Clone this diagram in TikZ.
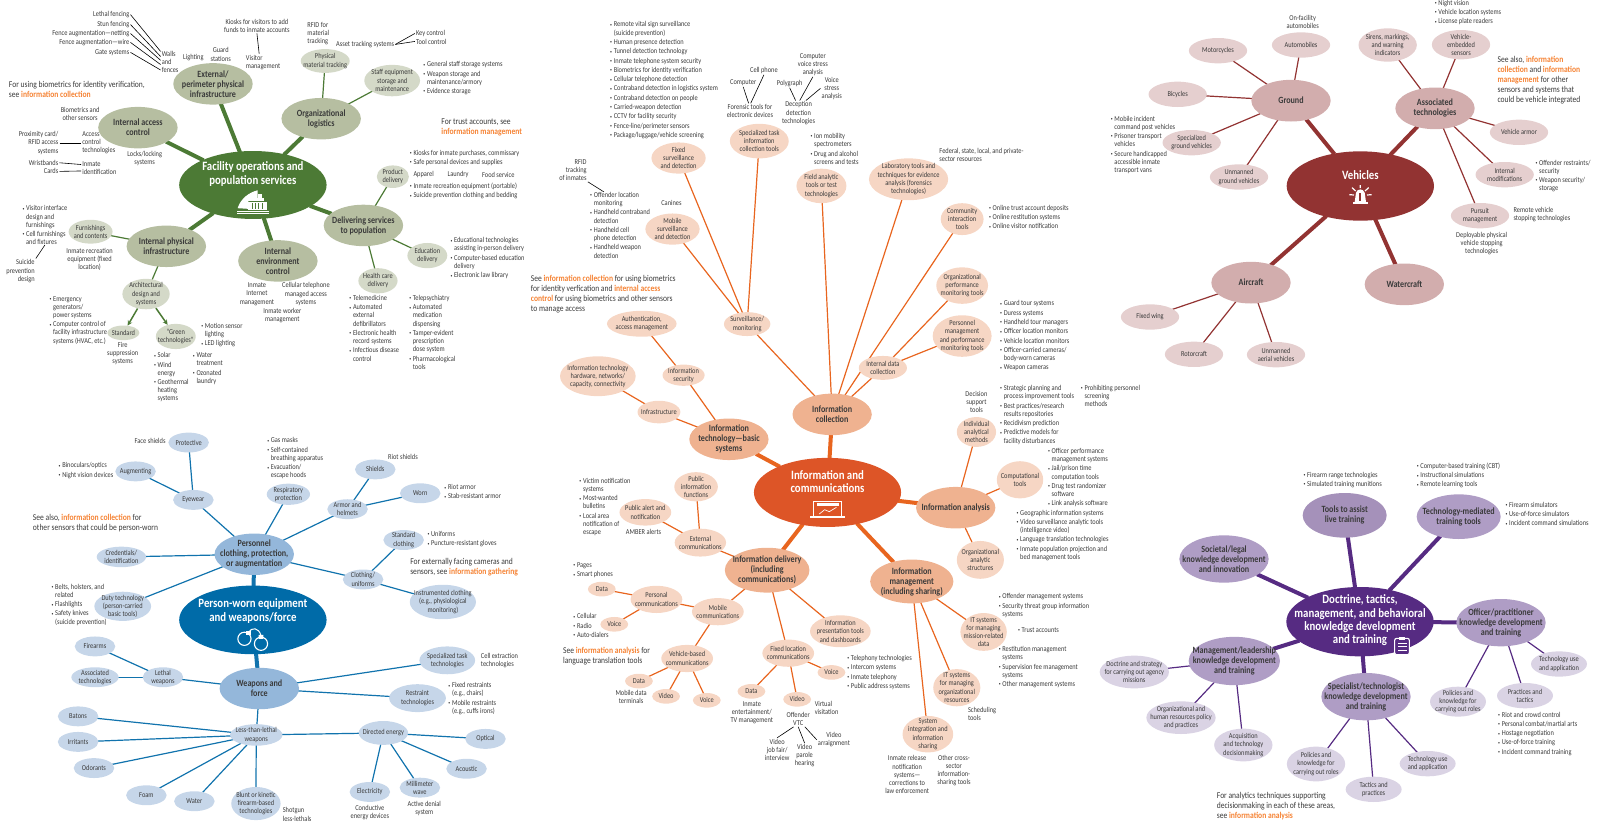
\documentclass[tikz,border=0pt]{standalone}
\usepackage{fontspec}
\setmainfont[FakeStretch=0.85]{Carlito}
\usetikzlibrary{shapes.geometric,arrows.meta,calc}
\pgfdeclarelayer{bg}
\pgfsetlayers{bg,main}
\definecolor{txt}{HTML}{3A3A3A}
\definecolor{note}{HTML}{F58233}
\definecolor{gMain}{HTML}{4C7A35}\definecolor{gOne}{HTML}{B6BEA1}\definecolor{gTwo}{HTML}{D4D9C8}\definecolor{gLine}{HTML}{4C7A35}
\definecolor{bMain}{HTML}{006BA8}\definecolor{bOne}{HTML}{94B7DA}\definecolor{bTwo}{HTML}{C6D6E9}\definecolor{bLine}{HTML}{1173AD}
\definecolor{oMain}{HTML}{DD5527}\definecolor{oOne}{HTML}{EFB290}\definecolor{oTwo}{HTML}{F6D6C4}\definecolor{oLine}{HTML}{E8651F}
\definecolor{rMain}{HTML}{923332}\definecolor{rOne}{HTML}{D2ADAD}\definecolor{rTwo}{HTML}{E5CFCF}\definecolor{rLine}{HTML}{923332}
\definecolor{pMain}{HTML}{562B82}\definecolor{pOne}{HTML}{AF9DC5}\definecolor{pOneD}{HTML}{A591BA}\definecolor{pTwo}{HTML}{DAD3E4}\definecolor{pLine}{HTML}{562B82}
\tikzset{
 ell/.style={ellipse,inner sep=0pt,draw=none},
 mtxt/.style={align=center,text=white,inner sep=0pt,font=\fontsize{12.7}{13.2}\selectfont\bfseries},
 onetxt/.style={align=center,text=txt,inner sep=0pt,font=\fontsize{9.5}{10}\selectfont\bfseries},
 twotxt/.style={align=center,text=txt,inner sep=0pt,font=\fontsize{7.5}{8.2}\selectfont},
 ltxt/.style={text=txt,inner sep=1pt,font=\fontsize{7.5}{8.2}\selectfont},
 ntxt/.style={text=txt,inner sep=0pt,anchor=west,align=left,font=\fontsize{8.9}{10}\selectfont},
 leader/.style={draw=black,line width=.6pt},
 con/.style={line cap=butt,shorten <=-1pt,shorten >=-1pt},
 arr/.style={-{Stealth[length=5pt,width=5pt]},line width=1.5pt},
 zm/.style n args={4}{xshift=#1pt,yshift=-#2pt,x=#3pt,y=-#4pt}
}
\newcommand{\Mn}[8]{\node[ell,fill=cMain,minimum width={#4*\zk pt},minimum height={#5*\zh pt}] (#1) at (#2,#3) {};\node[mtxt] (#1t) at (#6,#7) {#8};}
\newcommand{\Oa}[6]{\node[ell,fill=cOne,minimum width={#4*\zk pt},minimum height={#5*\zh pt}] (#1) at (#2,#3) {};\node[onetxt] (#1t) at (#1) {#6};}
\newcommand{\Tw}[6]{\node[ell,fill=cTwo,minimum width={#4*\zk pt},minimum height={#5*\zh pt}] (#1) at (#2,#3) {};\node[twotxt] (#1t) at (#1) {#6};}
\newcommand{\TxC}[4]{\node[ltxt,align=center] (#1) at (#2,#3) {#4};}
\newcommand{\TxL}[4]{\node[ltxt,align=left,anchor=west] (#1) at (#2,#3) {#4};}
\newcommand{\TxR}[4]{\node[ltxt,align=right,anchor=east] (#1) at (#2,#3) {#4};}
\newcommand{\itm}{\makebox[3.6pt][l]{\raisebox{.6pt}{\fontsize{4.5}{5}\selectfont\textbullet}}}
\newcommand{\Cn}{\\\hspace*{3.6pt}}
\newcommand{\Nx}{\\[1.1pt]\itm}
\newcommand{\Bl}[4]{\node[ltxt,inner sep=0pt,align=left,anchor=north west] (#1) at (#2,{#3-12}) {\itm #4};}
\newcommand{\Nt}[4]{\node[ntxt] (#1) at (#2,#3) {#4};}
\newcommand{\Or}[1]{\textcolor{note}{\bfseries #1}}
\newcommand{\Conn}[3]{\foreach \a/\b in {#3} \draw[con,draw=#1,line width=#2] (\a) -- (\b);}
\begin{document}
\begin{tikzpicture}[x=1pt,y=1pt]
\useasboundingbox (0,0) rectangle (1606,-825);
%% GREEN
\def\zk{0.33807}\def\zh{0.3315}
\colorlet{cMain}{gMain}\colorlet{cOne}{gOne}\colorlet{cTwo}{gTwo}
\begin{scope}[zm={0}{0}{0.33807}{0.3315}]
\Mn{gm}{748}{558}{436}{205}{748}{525}{Facility operations and\\population services}
\Oa{gExt}{630}{253}{235}{125}{External/\\perimeter physical\\infrastructure}
\Oa{gAcc}{408}{385}{235}{125}{Internal access\\control}
\Oa{gLog}{950}{358}{235}{125}{Organizational\\logistics}
\Oa{gDel}{1075}{680}{235}{125}{Delivering services\\to population}
\Oa{gEnv}{822}{787}{235}{125}{Internal\\environment\\control}
\Oa{gPhy}{492}{743}{235}{125}{Internal physical\\infrastructure}
\Tw{gMat}{962}{184}{145}{72}{Physical\\material tracking}
\Tw{gStaff}{1160}{243}{165}{95}{Staff equipment\\storage and\\maintenance}
\Tw{gProd}{1162}{533}{95}{68}{Product\\delivery}
\Tw{gEdu}{1264}{771}{118}{76}{Education\\delivery}
\Tw{gHealth}{1118}{847}{116}{76}{Health care\\delivery}
\Tw{gFurn}{268}{699}{130}{72}{Furnishings\\and contents}
\Tw{gArch}{432}{887}{140}{92}{Architectural\\design and\\systems}
\Tw{gStd}{365}{1004}{95}{44}{Standard}
\Tw{gGreen}{520}{1015}{118}{76}{``Green\\technologies''}
% icon
\fill[white] (703,628) .. controls (712,598) and (738,580) .. (762,574) -- (762,606) -- (735,606) -- (735,630) -- cycle;
\fill[white] (735,610) rectangle (790,632);
\fill[white] (755,596) rectangle (782,606);
\fill[white] (764,586) rectangle (776,596);
\fill[white] (700,635) rectangle (795,638);
\fill[white] (700,643) rectangle (795,647);
\foreach \q in {744,754,764,774}{\fill[gMain] (\q,612) rectangle ++(3,18);}
\TxR{gt1}{386}{44}{Lethal fencing}
\TxR{gt2}{386}{74}{Stun fencing}
\TxR{gt3}{386}{101}{Fence augmentation—netting}
\TxR{gt4}{386}{128}{Fence augmentation—wire}
\TxR{gt5}{386}{158}{Gate systems}
\TxL{gWalls}{475}{187}{Walls\\and\\fences}
\TxC{gt6}{572}{173}{Lighting}
\TxC{gt7}{653}{164}{Guard\\stations}
\TxL{gVis}{724}{188}{Visitor\\management}
\TxC{gKi}{760}{77}{Kiosks for visitors to add\\funds to inmate accounts}
\TxL{gt8}{906}{101}{RFID for\\material\\tracking}
\TxC{gAsset}{1080}{134}{Asset tracking systems}
\TxL{gKey}{1227}{101}{Key control}
\TxL{gTool}{1227}{125}{Tool control}
\Bl{gb1}{1252}{197}{General staff storage systems\Nx Weapon storage and\Cn maintenance/armory\Nx Evidence storage}
\Nt{gn1}{26}{270}{For using biometrics for identity verification,\\see \Or{information collection}}
\Nt{gn2}{1305}{385}{For trust accounts, see\\\Or{information management}}
\TxC{gt9}{237}{344}{Biometrics and\\other sensors}
\TxR{gProx}{176}{431}{Proximity card/\\RFID access\\systems}
\TxL{gAccT}{240}{431}{Access\\control\\technologies}
\TxR{gWr}{176}{491}{Wristbands}
\TxR{gCa}{176}{517}{Cards}
\TxL{gIn}{240}{506}{Inmate\\identification}
\TxC{gt10}{428}{479}{Locks/locking\\systems}
\Bl{gb2}{1212}{464}{Kiosks for inmate purchases, commissary\Nx Safe personal devices and supplies}
\TxC{gt11}{1253}{527}{Apparel}
\TxC{gt12}{1355}{527}{Laundry}
\TxC{gt13}{1474}{527}{Food service}
\Bl{gb3}{1212}{563}{Inmate recreation equipment (portable)\Nx Suicide prevention clothing and bedding}
\Bl{gb4}{1332}{728}{Educational technologies\Cn assisting in-person delivery\Nx Computer-based education\Cn delivery\Nx Electronic law library}
\Bl{gb5}{1033}{902}{Telemedicine\Nx Automated\Cn external\Cn defibrillators\Nx Electronic health\Cn record systems\Nx Infectious disease\Cn control}
\Bl{gb6}{1210}{902}{Telepsychiatry\Nx Automated\Cn medication\Cn dispensing\Nx Tamper-evident\Cn prescription\Cn dose system\Nx Pharmacological\Cn tools}
\TxC{gt14}{760}{887}{Inmate\\Internet\\management}
\TxC{gt15}{905}{887}{Cellular telephone\\managed access\\systems}
\TxC{gt16}{835}{953}{Inmate worker\\management}
\Bl{gFb}{66}{632}{Visitor interface\Cn design and\Cn furnishings\Nx Cell furnishings\Cn and fixtures}
\TxR{gSui}{106}{818}{Suicide\\prevention\\design}
\TxC{gt17}{265}{782}{Inmate recreation\\equipment (fixed\\location)}
\Bl{gb7}{146}{905}{Emergency\Cn generators/\Cn power systems\Nx Computer control of\Cn facility infrastructure\Cn systems (HVAC, etc.)}
\TxC{gt18}{363}{1067}{Fire\\suppression\\systems}
\Bl{gb8}{595}{986}{Motion sensor\Cn lighting\Nx LED lighting}
\Bl{gb9}{455}{1075}{Solar\Nx Wind\Cn energy\Nx Geothermal\Cn heating\Cn systems}
\Bl{gb10}{570}{1076}{Water\Cn treatment\Nx Ozonated\Cn laundry}
\end{scope}
\draw[leader] (gt1.east) -- (gWalls.132);
\draw[leader] (gt2.east) -- (gWalls.150);
\draw[leader] (gt3.east) -- (gWalls.170);
\draw[leader] (gt4.east) -- (gWalls.195);
\draw[leader] (gt5.east) -- (gWalls.220);
\draw[leader] (gKi.south) -- (gVis.115);
\draw[leader] (gAsset.east) -- (gKey.west);
\draw[leader] (gAsset.east) -- (gTool.west);
\draw[leader] (gProx.east) -- (gAccT.west);
\draw[leader] (gWr.east) -- (gIn.170);
\draw[leader] (gCa.east) -- (gIn.190);
\draw[leader] (gSui.north east) -- (gFb.south);
%% BLUE
\colorlet{cMain}{bMain}\colorlet{cOne}{bOne}\colorlet{cTwo}{bTwo}
\begin{scope}[zm={0}{420}{0.33807}{0.3315}]
\Mn{bm}{748}{603}{436}{207}{748}{576}{Person-worn equipment\\and weapons/force}
\Oa{bPers}{752}{405}{235}{125}{Personnel\\clothing, protection,\\or augmentation}
\Oa{bWeap}{767}{810}{235}{125}{Weapons and\\force}
\Tw{bProt}{558}{68}{120}{60}{Protective}
\Tw{bAug}{401}{155}{120}{60}{Augmenting}
\Tw{bEye}{572}{241}{120}{60}{Eyewear}
\Tw{bResp}{853}{224}{128}{64}{Respiratory\\protection}
\Tw{bShi}{1110}{149}{120}{60}{Shields}
\Tw{bArm}{1028}{269}{120}{60}{Armor and\\helmets}
\Tw{bWorn}{1243}{221}{120}{60}{Worn}
\Tw{bStd}{1194}{362}{120}{60}{Standard\\clothing}
\Tw{bClo}{1074}{481}{120}{60}{Clothing/\\uniforms}
\Tw{bInst}{1310}{549}{196}{104}{Instrumented clothing\\(e.g., physiological\\monitoring)}
\Tw{bCred}{359}{413}{146}{62}{Credentials/\\identification}
\Tw{bDuty}{363}{562}{168}{88}{Duty technology\\(person-carried\\basic tools)}
\Tw{bFire}{281}{683}{120}{60}{Firearms}
\Tw{bAss}{281}{776}{140}{60}{Associated\\technologies}
\Tw{bLeth}{482}{776}{120}{60}{Lethal\\weapons}
\Tw{bSpec}{1323}{725}{165}{84}{Specialized task\\technologies}
\Tw{bRest}{1235}{839}{168}{84}{Restraint\\technologies}
\Tw{bLess}{758}{950}{155}{65}{Less-than-lethal\\weapons}
\Tw{bDir}{1134}{944}{146}{72}{Directed energy}
\Tw{bBat}{231}{894}{120}{60}{Batons}
\Tw{bIrr}{231}{971}{120}{60}{Irritants}
\Tw{bOdo}{278}{1050}{120}{60}{Odorants}
\Tw{bFoam}{433}{1132}{120}{60}{Foam}
\Tw{bWat}{575}{1150}{120}{60}{Water}
\Tw{bBlu}{757}{1157}{146}{100}{Blunt or kinetic\\firearm-based\\technologies}
\Tw{bEle}{1094}{1122}{120}{60}{Electricity}
\Tw{bMil}{1242}{1109}{120}{60}{Millimeter\\wave}
\Tw{bAco}{1380}{1052}{120}{60}{Acoustic}
\Tw{bOpt}{1436}{962}{120}{60}{Optical}
\draw[white,line width=1.1pt] (723,660) circle (6.6pt) (772,675) circle (6.6pt);
\draw[white,line width=1pt] (735,640) .. controls (745,625) and (765,625) .. (772,650);
\fill[white] (728,637) rectangle (742,648) (765,648) rectangle (779,660);
\TxC{bt1}{444}{62}{Face shields}
\Bl{bb1}{173}{140}{Binoculars/optics\Nx Night vision devices}
\Bl{bb2}{790}{65}{Gas masks\Nx Self-contained\Cn breathing apparatus\Nx Evacuation/\Cn escape hoods}
\TxC{bt2}{1192}{110}{Riot shields}
\Bl{bb3}{1314}{206}{Riot armor\Nx Stab-resistant armor}
\Bl{bb4}{1264}{347}{Uniforms\Nx Puncture-resistant gloves}
\Bl{bb5}{152}{506}{Belts, holsters, and\Cn related\Nx Flashlights\Nx Safety knives\Cn (suicide prevention)}
\TxL{bt3}{1419}{725}{Cell extraction\\technologies}
\Bl{bb6}{1326}{803}{Fixed restraints\Cn (e.g., chairs)\Nx Mobile restraints\Cn (e.g., cuffs irons)}
\TxL{bt4}{833}{1190}{Shotgun\\less-lethals}
\TxC{bt5}{1094}{1184}{Conductive\\energy devices}
\TxC{bt6}{1255}{1172}{Active denial\\system}
\Nt{bn1}{97}{310}{See also, \Or{information collection} for\\other sensors that could be person-worn}
\Nt{bn2}{1213}{445}{For externally facing cameras and\\sensors, see \Or{information gathering}}
\end{scope}
%% ORANGE
\def\zk{0.35714}\def\zh{0.332}
\colorlet{cMain}{oMain}\colorlet{cOne}{oOne}\colorlet{cTwo}{oTwo}
\begin{scope}[zm={530}{260}{0.35714}{0.332}]
\Mn{om}{833}{700}{412}{208}{833}{668}{Information and\\communications}
\Oa{oColl}{846}{465}{222}{125}{Information\\collection}
\Oa{oIT}{557}{540}{222}{125}{Information\\technology—basic\\systems}
\Oa{oAna}{1192}{746}{222}{125}{Information analysis}
\Tw{oSurv}{608}{193}{130}{72}{Surveillance/\\monitoring}
\Tw{oInt}{988}{325}{135}{72}{Internal data\\collection}
\Tw{oPer}{1210}{229}{165}{125}{Personnel\\management\\and performance\\monitoring tools}
\Tw{oOrgP}{1210}{77}{145}{110}{Organizational\\performance\\monitoring tools}
\Tw{oInd}{1250}{518}{110}{90}{Individual\\analytical\\methods}
\Tw{oCom}{1372}{662}{130}{112}{Computational\\tools}
\Tw{oAuth}{313}{192}{195}{78}{Authentication,\\access management}
\Tw{oSec}{430}{347}{118}{64}{Information\\security}
\Tw{oHw}{190}{350}{212}{120}{Information technology\\hardware, networks/\\capacity, connectivity}
\Tw{oInf}{361}{458}{120}{68}{Infrastructure}
\Tw{oPub}{465}{683}{122}{88}{Public\\information\\functions}
\Tw{oAl}{323}{760}{145}{80}{Public alert and\\notification}
% laptop icon
\draw[white,line width=1pt] (795,726) rectangle (873,772);
\fill[white] (803,732) rectangle (865,740);
\fill[white] (785,772) rectangle (882,776);
\draw[white,line width=.7pt] (810,765) -- (825,752) -- (838,758) -- (858,745);
\Nt{on1}{2}{104}{See \Or{information collection} for using biometrics\\for identity verfication and \Or{internal access}\\\Or{control} for using biometrics and other sensors\\to manage access}
\Bl{ob1}{1316}{134}{Guard tour systems\Nx Duress systems\Nx Handheld tour managers\Nx Officer location monitors\Nx Vehicle location monitors\Nx Officer-carried cameras/\Cn body-worn cameras\Nx Weapon cameras}
\Bl{ob2}{1316}{389}{Strategic planning and\Cn process improvement tools\Nx Best practices/research\Cn results repositories\Nx Recidivism prediction\Nx Predictive models for\Cn facility disturbances}
\TxC{ot1}{1250}{428}{Decision\\support\\tools}
\Bl{ob3}{1542}{389}{Prohibiting personnel\Cn screening\Cn methods}
\Bl{ob4}{1450}{578}{Officer performance\Cn management systems\Nx Jail/prison time\Cn computation tools\Nx Drug test randomizer\Cn software\Nx Link analysis software}
\Bl{ob5}{1362}{764}{Geographic information systems\Nx Video surveillance analytic tools\Cn (intelligence video)\Nx Language translation technologies\Nx Inmate population projection and\Cn bed management tools}
\Bl{ob6}{138}{668}{Victim notification\Cn systems\Nx Most-wanted\Cn bulletins\Nx Local area\Cn notification of\Cn escape}
\TxC{ot2}{318}{820}{AMBER alerts}
\end{scope}
\begin{scope}[zm={530}{0}{0.35714}{0.332}]
\Tw{oFix}{416}{476}{152}{94}{Fixed\\surveillance\\and detection}
\Tw{oSp}{642}{425}{165}{104}{Specialized task\\information\\collection tools}
\Tw{oFld}{816}{560}{140}{104}{Field analytic\\tools or test\\technologies}
\Tw{oLab}{1060}{540}{222}{126}{Laboratory tools and\\techniques for evidence\\analysis (forensics\\technologies)}
\Tw{oCmt}{1210}{660}{120}{96}{Community\\interaction\\tools}
\Tw{oMob}{399}{690}{152}{94}{Mobile\\surveillance\\and detection}
\Bl{ob7}{224}{77}{Remote vital sign surveillance\Cn (suicide prevention)\Nx Human presence detection\Nx Tunnel detection technology\Nx Inmate telephone system security\Nx Biometrics for identity verification\Nx Cellular telephone detection\Nx Contraband detection in logistics system\Nx Contraband detection on people\Nx Carried-weapon detection\Nx CCTV for facility security\Nx Fence-line/perimeter sensors\Nx Package/luggage/vehicle screening}
\TxC{oFor}{616}{335}{Forensic tools for\\electronic devices}
\TxC{oCp}{597}{249}{Computer}
\TxC{oCe}{655}{212}{Cell phone}
\TxC{oDec}{752}{341}{Deception\\detection\\technologies}
\TxC{oPol}{727}{251}{Polygraph}
\TxC{oCv}{792}{194}{Computer\\voice stress\\analysis}
\TxC{oVs}{845}{266}{Voice\\stress\\analysis}
\Bl{ob8}{785}{413}{Ion mobility\Cn spectrometers\Nx Drug and alcohol\Cn screens and tests}
\TxL{ot3}{1143}{467}{Federal, state, local, and private-\\sector resources}
\Bl{ob9}{1285}{629}{Online trust account deposits\Nx Online restitution systems\Nx Online visitor notification}
\TxR{oRf}{162}{512}{RFID\\tracking\\of inmates}
\Bl{oOf}{168}{590}{Offender location\Cn monitoring\Nx Handheld contraband\Cn detection\Nx Handheld cell\Cn phone detection\Nx Handheld weapon\Cn detection}
\TxC{ot4}{396}{611}{Canines}
\end{scope}
\begin{scope}[zm={550}{530}{0.35714}{0.332}]
\Oa{oDel}{608}{121}{237}{135}{Information delivery\\(including\\communications)}
\Oa{oMgm}{1013}{155}{233}{132}{Information\\management\\(including sharing)}
\Tw{oExt}{421}{38}{144}{84}{External\\communications}
\Tw{oOrgA}{1205}{90}{132}{114}{Organizational\\analytic\\structures}
\Tw{oMis}{1214}{307}{130}{114}{IT systems\\for managing\\mission-related\\data}
\Tw{oOrgR}{1139}{475}{132}{112}{IT systems\\for managing\\organizational\\resources}
\Tw{oSys}{1058}{615}{142}{110}{System\\integration and\\information\\sharing}
\Tw{oPres}{813}{305}{170}{96}{Information\\presentation tools\\and dashboards}
\Tw{oFL}{667}{371}{145}{82}{Fixed location\\communications}
\Tw{oMc}{470}{246}{145}{82}{Mobile\\communications}
\Tw{oPc}{298}{209}{145}{82}{Personal\\communications}
\Tw{oVb}{384}{387}{145}{82}{Vehicle-based\\communications}
\Tw{oD1}{145}{178}{78}{44}{Data}
\Tw{oV1}{180}{284}{78}{44}{Voice}
\Tw{oD2}{249}{455}{78}{44}{Data}
\Tw{oVi2}{325}{501}{78}{44}{Video}
\Tw{oV2}{439}{513}{78}{44}{Voice}
\Tw{oD3}{564}{486}{78}{44}{Data}
\Tw{oVi3}{692}{510}{78}{44}{Video}
\Tw{oV3}{788}{429}{78}{44}{Voice}
\Bl{ob10}{65}{110}{Pages\Nx Smart phones}
\Bl{ob11}{65}{263}{Cellular\Nx Radio\Nx Auto-dialers}
\Nt{on2}{36}{379}{See \Or{information analysis} for\\language translation tools}
\TxC{ot5}{227}{503}{Mobile data\\terminals}
\TxC{ot6}{565}{551}{Inmate\\entertainment/\\TV management}
\TxC{oVtc}{695}{569}{Offender\\VTC}
\TxL{ot7}{738}{536}{Virtual\\visitation}
\TxC{oJob}{636}{662}{Video\\job fair/\\interview}
\TxC{oPar}{713}{680}{Video\\parole\\hearing}
\TxC{oArr}{795}{632}{Video\\arraignment}
\Bl{ob12}{832}{389}{Telephony technologies\Nx Intercom systems\Nx Inmate telephony\Nx Public address systems}
\Bl{ob13}{1256}{203}{Offender management systems\Nx Security threat group information\Cn systems}
\Bl{ob14}{1310}{305}{Trust accounts}
\Bl{ob15}{1256}{362}{Restitution management\Cn systems\Nx Supervision fee management\Cn systems\Nx Other management systems}
\TxL{ot8}{1167}{554}{Scheduling\\tools}
\TxC{ot9}{1000}{737}{Inmate release\\notification\\systems—\\corrections to\\law enforcement}
\TxC{ot10}{1131}{725}{Other cross-\\sector\\information-\\sharing tools}
\end{scope}
\draw[leader] (oCp.south) -- (oFor.100);
\draw[leader] (oCe.south) -- (oFor.85);
\draw[leader] (oPol.south) -- (oDec.103);
\draw[leader] (oCv.south) -- (oDec.85);
\draw[leader] (oVs.west) -- (oDec.60);
\draw[leader] (oRf.south east) -- (oOf.116);
\draw[leader] (oVtc.240) -- (oJob.north);
\draw[leader] (oVtc.south) -- (oPar.north);
\draw[leader] (oVtc.310) -- (oArr.west);
%% RED
\def\zk{0.33333}\def\zh{0.33333}
\colorlet{cMain}{rMain}\colorlet{cOne}{rOne}\colorlet{cTwo}{rTwo}
\begin{scope}[zm={1100}{0}{0.33333}{0.33333}]
\Mn{rm}{781}{558}{442}{208}{781}{526}{Vehicles}
\Oa{rG}{573}{302}{238}{125}{Ground}
\Oa{rA}{1005}{325}{238}{125}{Associated\\technologies}
\Oa{rAi}{453}{848}{238}{125}{Aircraft}
\Oa{rW}{913}{853}{238}{125}{Watercraft}
\Tw{rAu}{603}{135}{175}{76}{Automobiles}
\Tw{rMo}{354}{152}{175}{76}{Motorcycles}
\Tw{rBi}{233}{283}{175}{76}{Bicycles}
\Tw{rSp}{275}{428}{175}{76}{Specialized\\ground vehicles}
\Tw{rUg}{417}{531}{175}{76}{Unmanned\\ground vehicles}
\Tw{rSi}{863}{135}{175}{100}{Sirens, markings,\\and warning\\indicators}
\Tw{rVe}{1083}{134}{175}{88}{Vehicle-\\embedded\\sensors}
\Tw{rVa}{1257}{397}{175}{76}{Vehicle armor}
\Tw{rIn}{1214}{524}{175}{76}{Internal\\modifications}
\Tw{rPu}{1140}{647}{175}{76}{Pursuit\\management}
\Tw{rFw}{150}{951}{175}{76}{Fixed wing}
\Tw{rRo}{282}{1063}{175}{76}{Rotorcraft}
\Tw{rUa}{528}{1064}{175}{76}{Unmanned\\aerial vehicles}
% siren icon
\fill[white] (764,606) -- (768,578) .. controls (772,565) and (790,565) .. (794,578) -- (798,606) -- cycle;
\fill[rMain] (778,580) rectangle (784,604);
\fill[white] (758,606) rectangle (805,611);
\draw[white,line width=1.2pt] (748,584) -- (762,585) (756,563) -- (767,573) (781,555) -- (781,564) (806,563) -- (795,573) (815,584) -- (801,585);
\TxC{rt1}{608}{65}{On-facility\\automobiles}
\Bl{rb1}{1004}{11}{Night vision\Nx Vehicle location systems\Nx License plate readers}
\Bl{rb2}{32}{359}{Mobile incident\Cn command post vehicles\Nx Prisoner transport\Cn vehicles\Nx Secure handicapped\Cn accessible inmate\Cn transport vans}
\Bl{rb3}{1306}{491}{Offender restraints/\Cn security\Nx Weapon security/\Cn storage}
\TxL{rt2}{1237}{644}{Remote vehicle\\stopping technologies}
\TxC{rt3}{1145}{731}{Deployable physical\\vehicle stopping\\technologies}
\Nt{rn1}{1192}{241}{See also, \Or{information}\\\Or{collection} and \Or{information}\\\Or{management} for other\\sensors and systems that\\could be vehicle integrated}
\end{scope}
%% PURPLE
\colorlet{cMain}{pMain}\colorlet{cOne}{pOneD}\colorlet{cTwo}{pTwo}
\begin{scope}[zm={1090}{460}{0.33333}{0.33333}]
\Mn{pm}{810}{485}{442}{208}{810}{481}{Doctrine, tactics,\\management, and behavioral\\knowledge development\\and training}
\Oa{pTo}{764}{166}{252}{134}{Tools to assist\\live training}
\colorlet{cOne}{pOne}
\Oa{pTe}{1106}{170}{252}{134}{Technology-mediated\\training tools}
\Oa{pSo}{402}{297}{268}{142}{Societal/legal\\knowledge development\\and innovation}
\Oa{pOf}{1233}{488}{268}{142}{Officer/practitioner\\knowledge development\\and training}
\Oa{pSp}{828}{710}{268}{142}{Specialist/technologist\\knowledge development\\and training}
\Oa{pMa}{433}{603}{274}{145}{Management/leadership\\knowledge development\\and training}
\Tw{pDo}{133}{636}{208}{98}{Doctrine and strategy\\for carrying out agency\\missions}
\Tw{pHr}{273}{773}{208}{98}{Organizational and\\human resources policy\\and practices}
\Tw{pAc}{460}{855}{175}{98}{Acquisition\\and technology\\decisionmaking}
\Tw{pPo}{678}{912}{175}{104}{Policies and\\knowledge for\\carrying out roles}
\Tw{pTa}{851}{988}{168}{76}{Tactics and\\practices}
\Tw{pTu}{1013}{911}{168}{76}{Technology use\\and application}
\Tw{pPr}{1104}{725}{168}{90}{Policies and\\knowledge for\\carrying out roles}
\Tw{pPt}{1305}{707}{168}{76}{Practices and\\tactics}
\Tw{pTv}{1407}{612}{168}{76}{Technology use\\and application}
% clipboard icon
\draw[white,fill=pMain,line width=1.1pt,rounded corners=2pt] (914,535) rectangle (958,584);
\fill[white] (926,530) rectangle (946,540);
\draw[white,line width=.9pt] (924,550) -- (950,550) (924,560) -- (950,560) (924,570) -- (950,570);
\Bl{pb1}{640}{47}{Firearm range technologies\Nx Simulated training munitions}
\Bl{pb2}{980}{20}{Computer-based training (CBT)\Nx Instructional simulations\Nx Remote learning tools}
\Bl{pb3}{1246}{137}{Firearm simulators\Nx Use-of-force simulators\Nx Incident command simulations}
\Bl{pb4}{1224}{767}{Riot and crowd control\Nx Personal combat/martial arts\Nx Hostage negotiation\Nx Use-of-force training\Nx Incident command training}
\Nt{pn1}{380}{1037}{For analytics techniques supporting\\decisionmaking in each of these areas,\\see \Or{information analysis}}
\end{scope}
%% CONNECTORS
\begin{pgfonlayer}{bg}
\Conn{gLine}{4pt}{gm/gExt,gm/gAcc,gm/gLog,gm/gDel,gm/gEnv,gm/gPhy}
\Conn{gLine}{1.2pt}{gLog/gMat,gLog/gStaff,gDel/gProd,gDel/gEdu,gDel/gHealth,gPhy/gFurn,gPhy/gArch}
\draw[arr,draw=gLine,fill=gLine] (gArch) -- (gStd);
\draw[arr,draw=gLine,fill=gLine] (gArch) -- (gGreen);
\Conn{bLine}{4pt}{bm/bPers,bm/bWeap}
\Conn{bLine}{1.2pt}{bPers/bEye,bEye/bProt,bEye/bAug,bPers/bResp,bPers/bArm,bArm/bShi,bArm/bWorn,bPers/bClo,bClo/bStd,bClo/bInst,bPers/bCred,bPers/bDuty,bWeap/bLeth,bLeth/bFire,bLeth/bAss,bWeap/bSpec,bWeap/bRest,bWeap/bLess,bLess/bBat,bLess/bIrr,bLess/bOdo,bLess/bFoam,bLess/bWat,bLess/bBlu,bLess/bDir,bDir/bOpt,bDir/bAco,bDir/bMil,bDir/bEle}
\Conn{oLine}{4pt}{om/oColl,om/oIT,om/oAna,om/oDel,om/oMgm}
\Conn{oLine}{1.2pt}{oColl/oSurv,oSurv/oFix,oSurv/oMob,oSurv/oSp,oColl/oFld,oColl/oLab,oColl/oCmt,oColl/oInt,oInt/oOrgP,oInt/oPer,oIT/oInf,oInf/oHw,oIT/oSec,oSec/oAuth,oAna/oInd,oAna/oCom,oAna/oOrgA,oDel/oExt,oExt/oPub,oExt/oAl,oDel/oMc,oMc/oPc,oPc/oD1,oPc/oV1,oMc/oVb,oVb/oD2,oVb/oVi2,oVb/oV2,oDel/oPres,oDel/oFL,oFL/oD3,oFL/oVi3,oFL/oV3,oMgm/oMis,oMgm/oOrgR,oMgm/oSys}
\Conn{rLine}{4pt}{rm/rG,rm/rA,rm/rAi,rm/rW}
\Conn{rLine}{1.2pt}{rG/rAu,rG/rMo,rG/rBi,rG/rSp,rG/rUg,rA/rSi,rA/rVe,rA/rVa,rA/rIn,rA/rPu,rAi/rFw,rAi/rRo,rAi/rUa}
\Conn{pLine}{4pt}{pm/pTo,pm/pTe,pm/pSo,pm/pOf,pm/pSp,pm/pMa}
\Conn{pLine}{1.2pt}{pMa/pDo,pMa/pHr,pMa/pAc,pSp/pPo,pSp/pTa,pSp/pTu,pOf/pPr,pOf/pPt,pOf/pTv}
\end{pgfonlayer}
\end{tikzpicture}
\end{document}
